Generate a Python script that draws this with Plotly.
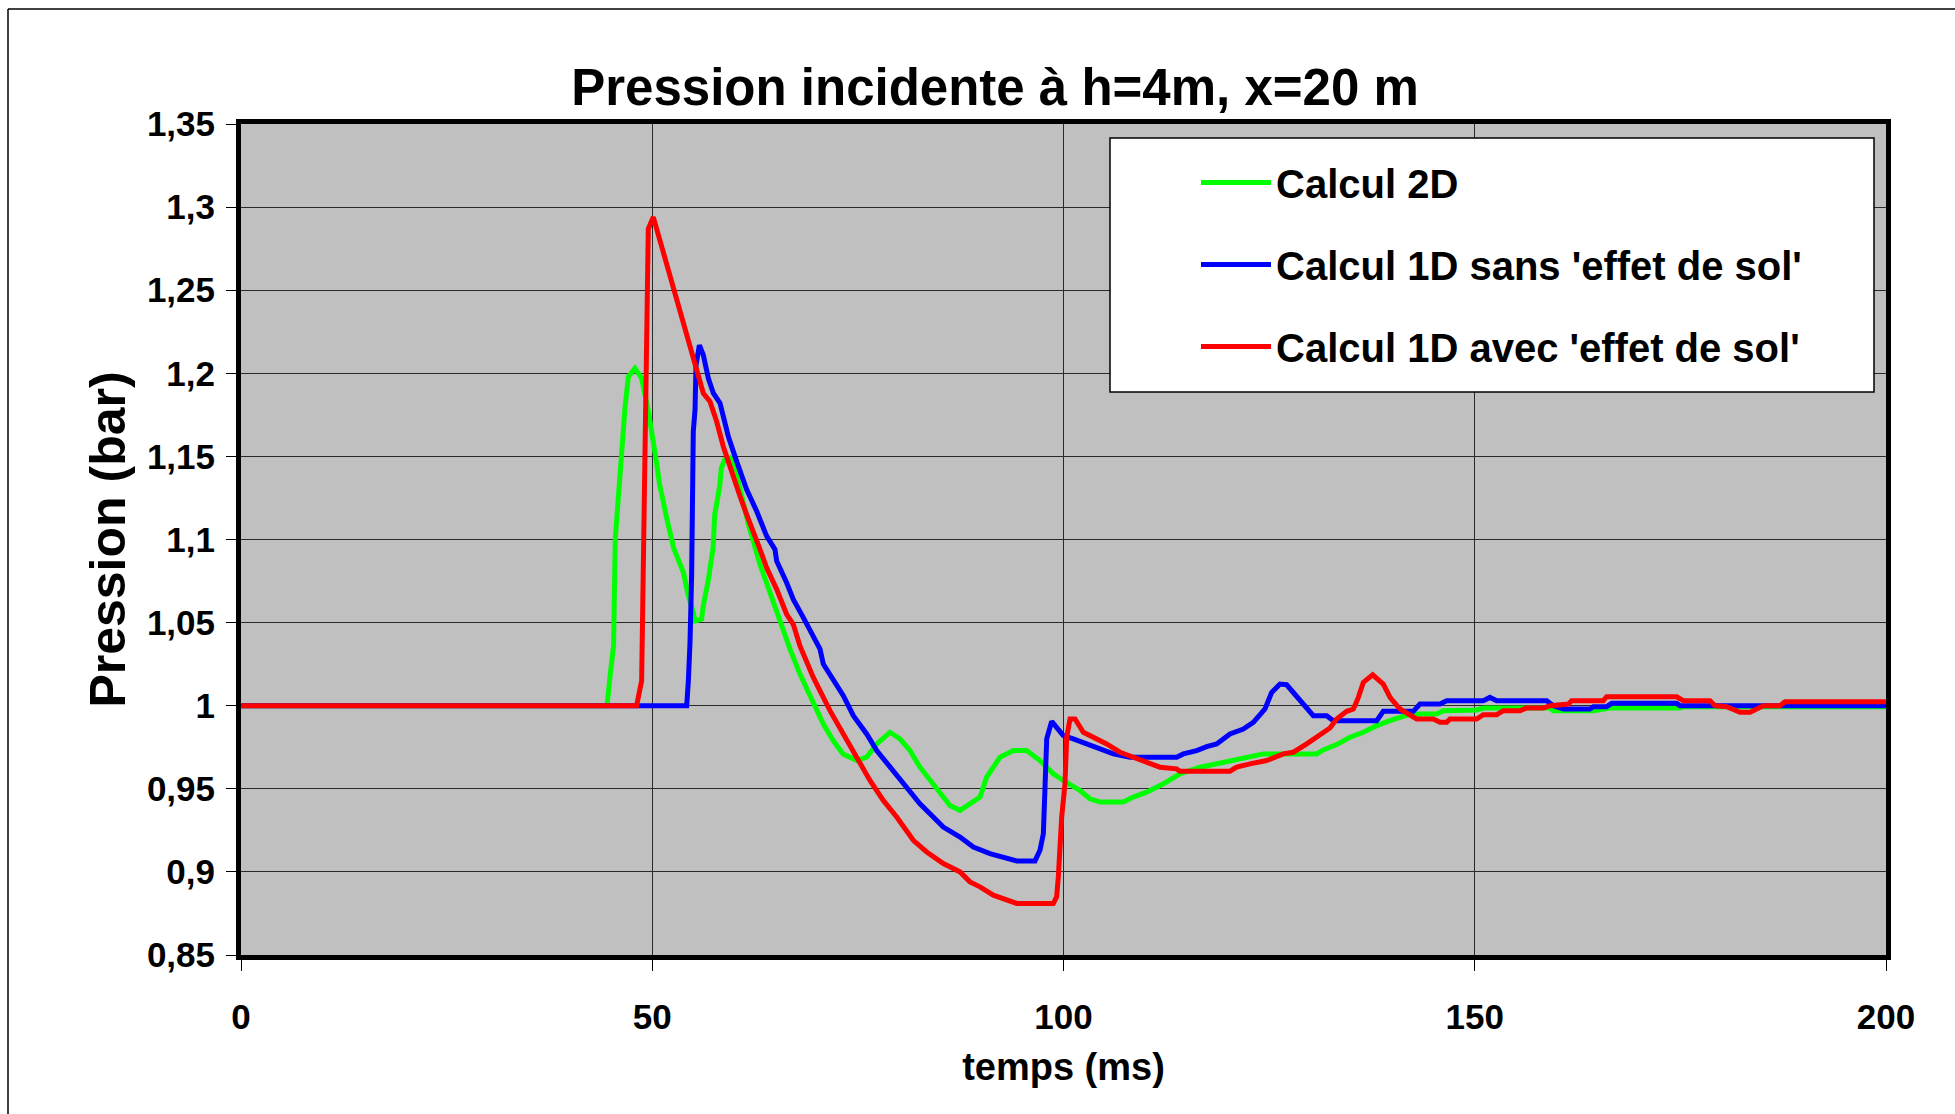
import plotly.graph_objects as go

# ---------------- data ----------------
t_2d = [0, 44.5, 44.9, 45.3, 45.5, 46.1, 46.3, 46.7, 47.1, 47.9, 48.7, 49.5, 50.5, 50.9, 51.8,
        52.6, 53.8, 54.4, 55.0, 55.2, 56.0, 56.2, 56.8, 57.4, 57.6, 58.2, 58.4, 58.8, 59.5,
        59.9, 60.7, 61.7, 63.1, 64.3, 65.5, 66.75, 67.96, 69.58, 70.8, 72.0, 73.2, 74.85,
        76.07, 77.29, 78.91, 80.12, 81.34, 82.55, 83.77, 84.98, 86.2, 87.42, 88.63, 89.85,
        90.66, 92.28, 93.9, 95.52, 97.14, 98.76, 99.98, 102.0, 103.22, 104.44, 107.27,
        108.49, 110.11, 112.14, 114.16, 116.6, 118.22, 120.65, 122.67, 124.3, 130.78,
        131.59, 133.21, 134.83, 136.45, 138.08, 139.7, 141.32, 142.13, 145.37, 146.18,
        150.23, 151.04, 159.15, 159.55, 164.42, 166.44, 174.95, 175.36, 200]
p_2d = [1.0, 1.0, 1.019, 1.036, 1.10, 1.145, 1.16, 1.18, 1.198, 1.203, 1.197, 1.178, 1.147,
        1.133, 1.112, 1.095, 1.08, 1.066, 1.056, 1.051, 1.052, 1.06, 1.075, 1.095, 1.115,
        1.132, 1.143, 1.148, 1.149, 1.145, 1.13, 1.109, 1.085, 1.068, 1.05, 1.034, 1.019,
        1.001, 0.989, 0.979, 0.971, 0.967, 0.969, 0.977, 0.984, 0.980, 0.973, 0.963, 0.955,
        0.947, 0.940, 0.937, 0.941, 0.945, 0.957, 0.969, 0.973, 0.973, 0.967, 0.959, 0.955,
        0.949, 0.944, 0.942, 0.942, 0.945, 0.948, 0.953, 0.959, 0.963, 0.9646, 0.967, 0.969,
        0.971, 0.971, 0.9734, 0.9766, 0.981, 0.984, 0.988, 0.991, 0.994, 0.995, 0.995, 0.997,
        0.9974, 0.9986, 0.9986, 0.997, 0.997, 0.9986, 0.9986, 0.9994, 0.9994]

t_1d_sans = [0, 54.19, 54.39, 54.59, 54.79, 54.99, 55.2, 55.32, 55.73, 56.21, 56.82, 57.43,
             58.24, 58.84, 59.25, 60.26, 61.48, 62.7, 63.91, 64.92, 65.13, 66.34, 67.15,
             68.37, 69.58, 70.4, 70.8, 72.01, 73.23, 74.45, 76.07, 77.29, 78.91, 80.93,
             82.55, 84.17, 85.39, 87.42, 89.04, 91.06, 92.68, 94.31, 96.53, 97.14, 97.55,
             97.75, 97.96, 98.56, 99.17, 99.98, 101.19, 102.82, 104.44, 106.06, 108.08,
             110.52, 113.76, 114.57, 116.19, 117.41, 118.62, 120.24, 121.86, 123.08, 124.5,
             125.31, 126.32, 127.13, 128.35, 129.57, 130.37, 132.0, 132.8, 138.08, 138.88,
             142.53, 143.34, 145.78, 146.59, 151.04, 151.85, 152.67, 158.75, 159.55, 160.77,
             164.01, 164.42, 166.04, 166.65, 174.55, 174.95, 200]
p_1d_sans = [1.0, 1.0, 1.015, 1.038, 1.079, 1.165, 1.178, 1.205, 1.217, 1.211, 1.197, 1.188,
             1.182, 1.171, 1.162, 1.147, 1.130, 1.117, 1.102, 1.094, 1.087, 1.074, 1.064,
             1.053, 1.042, 1.034, 1.025, 1.015, 1.006, 0.994, 0.983, 0.973, 0.963, 0.951,
             0.941, 0.933, 0.927, 0.921, 0.915, 0.911, 0.9086, 0.9066, 0.9066, 0.913, 0.923,
             0.953, 0.980, 0.9906, 0.987, 0.982, 0.980, 0.977, 0.974, 0.971, 0.969,
             0.969, 0.969, 0.971, 0.973, 0.9754, 0.977, 0.983, 0.986, 0.990, 0.998,
             1.008, 1.013, 1.0126, 1.006, 0.999, 0.994, 0.994, 0.991, 0.991, 0.9966,
             0.9966, 1.001, 1.001, 1.003, 1.003, 1.005, 1.003, 1.003, 1.0, 0.998,
             0.998, 0.9994, 0.9994, 1.0014, 1.0014, 1.0, 1.0]

t_1d_avec = [0, 48.1, 48.71, 48.92, 49.12, 49.4, 49.52, 50.13, 50.94, 51.75, 52.77, 53.78,
             54.59, 55.2, 55.81, 56.21, 57.02, 57.83, 58.64, 59.45, 60.67, 61.48, 62.29,
             63.1, 63.91, 65.13, 66.34, 67.15, 67.96, 69.58, 71.61, 73.23, 74.85, 76.47,
             78.09, 79.72, 81.74, 83.37, 85.39, 87.42, 88.63, 89.85, 91.47, 93.09, 94.31,
             98.76, 99.17, 99.37, 99.78, 100.18, 100.39, 100.79, 101.4, 102.41, 103.63,
             105.25, 106.87, 108.49, 110.52, 111.73, 113.76, 114.16, 120.24, 121.05, 122.67,
             124.7, 126.72, 127.94, 129.57, 130.78, 132.4, 133.21, 134.43, 135.24, 135.85,
             136.45, 137.59, 138.88, 139.7, 140.91, 142.53, 142.94, 144.96, 145.78, 146.59,
             146.99, 150.23, 151.04, 152.67, 153.48, 155.5, 156.31, 158.34, 159.15, 161.38,
             161.78, 165.63, 166.04, 174.55, 175.36, 178.6, 179.21, 180.63, 181.44, 182.25,
             183.47, 184.28, 185.08, 187.11, 187.72, 200]
p_1d_avec = [1.0, 1.0, 1.015, 1.079, 1.143, 1.229, 1.287, 1.294, 1.280, 1.265, 1.248, 1.231,
             1.218, 1.205, 1.195, 1.188, 1.183, 1.171, 1.156, 1.143, 1.126, 1.115, 1.105,
             1.094, 1.083, 1.070, 1.055, 1.049, 1.036, 1.017, 0.997, 0.983, 0.969, 0.955,
             0.943, 0.933, 0.919, 0.912, 0.905, 0.900, 0.894, 0.891, 0.886, 0.883, 0.881,
             0.881, 0.885, 0.897, 0.933, 0.953, 0.981, 0.992, 0.992, 0.984, 0.981,
             0.977, 0.972, 0.969, 0.966, 0.963, 0.962, 0.9606, 0.9606, 0.963, 0.965,
             0.967, 0.971, 0.972, 0.977, 0.981, 0.9866, 0.992, 0.9966, 0.998, 1.005,
             1.014, 1.0186, 1.013, 1.005, 0.998, 0.993, 0.992, 0.992, 0.990, 0.990,
             0.992, 0.992, 0.9946, 0.9946, 0.997, 0.997, 0.9986, 0.9986, 1.0, 1.001,
             1.003, 1.003, 1.0054, 1.0054, 1.003, 1.003, 1.0, 0.9994, 0.998, 0.996,
             0.996, 0.998, 1.0, 1.0, 1.0024, 1.0024]

series_names = ["Calcul 2D", "Calcul 1D sans 'effet de sol'", "Calcul 1D avec 'effet de sol'"]
series_colors = ["#00FF00", "#0000FF", "#FF0000"]

x_tickvals = [0, 50, 100, 150, 200]
x_ticktext = ["0", "50", "100", "150", "200"]
y_tickvals = [0.85, 0.9, 0.95, 1.0, 1.05, 1.1, 1.15, 1.2, 1.25, 1.3, 1.35]
y_ticktext = ["0,85", "0,9", "0,95", "1", "1,05", "1,1", "1,15", "1,2", "1,25", "1,3", "1,35"]

title_text = "Pression incidente à h=4m, x=20 m"
x_title = "temps (ms)"
y_title = "Pression (bar)"

# ---------------- figure ----------------
SANS = "Liberation Sans, Arial, sans-serif"

fig = go.Figure()
xs = [t_2d, t_1d_sans, t_1d_avec]
ys = [p_2d, p_1d_sans, p_1d_avec]
for i in range(3):
    fig.add_trace(go.Scatter(
        x=xs[i], y=ys[i], mode="lines", name=series_names[i],
        legendgroup="g%d" % i,
        line=dict(color=series_colors[i], width=5),
    ))

W, H = 1955, 1114
L, R, T, B = 241, 69, 124, 159
PW, PH = W - L - R, H - T - B

def px2paper_x(px):
    return (px - L) / PW

def px2paper_y(py):
    return (H - B - py) / PH

fig.update_layout(
    width=W, height=H,
    margin=dict(l=L, r=R, t=T, b=B, autoexpand=False),
    paper_bgcolor="white",
    plot_bgcolor="#C0C0C0",
    font=dict(family=SANS, color="black", weight="bold"),
    title=dict(
        text=title_text, x=995 / W, xanchor="center", xref="container",
        y=1 - 87 / H, yanchor="middle", yref="container",
        font=dict(family=SANS, size=51, color="black", weight="bold"),
    ),
    showlegend=True,
    legend=dict(
        x=px2paper_x(1196), xanchor="left",
        y=px2paper_y(150), yanchor="top",
        bgcolor="rgba(0,0,0,0)", borderwidth=0,
        font=dict(family=SANS, size=40, color="black", weight="bold"),
        tracegroupgap=27, itemwidth=70,
    ),
    xaxis=dict(
        range=[0, 200], tickvals=x_tickvals, ticktext=x_ticktext,
        ticks="outside", ticklen=11, tickwidth=1, tickcolor="black",
        ticklabelstandoff=16,
        showgrid=True, gridcolor="#2a2a2a", gridwidth=1, zeroline=False,
        showline=True, linewidth=5, linecolor="black", mirror=True,
        tickfont=dict(family=SANS, size=35, color="black", weight="bold"),
        title=dict(text=x_title, standoff=20,
                   font=dict(family=SANS, size=38, color="black", weight="bold")),
    ),
    yaxis=dict(
        range=[0.85, 1.35], tickvals=y_tickvals, ticktext=y_ticktext,
        ticks="outside", ticklen=10, tickwidth=1, tickcolor="black",
        ticklabelstandoff=4,
        showgrid=True, gridcolor="#2a2a2a", gridwidth=1, zeroline=False,
        showline=True, linewidth=5, linecolor="black", mirror=True,
        tickfont=dict(family=SANS, size=35, color="black", weight="bold"),
        title=dict(text=y_title, standoff=7,
                   font=dict(family=SANS, size=50, color="black", weight="bold")),
    ),
    shapes=[
        # legend box
        dict(type="rect", xref="paper", yref="paper", layer="above",
             x0=px2paper_x(1110), x1=px2paper_x(1874),
             y0=px2paper_y(392), y1=px2paper_y(138),
             fillcolor="white", line=dict(color="black", width=1.5)),
        # outer chart frame: top and left edges (others lie outside the picture)
        dict(type="line", xref="paper", yref="paper", layer="below",
             x0=px2paper_x(8), x1=px2paper_x(1955),
             y0=px2paper_y(9), y1=px2paper_y(9),
             line=dict(color="black", width=1.5)),
        dict(type="line", xref="paper", yref="paper", layer="below",
             x0=px2paper_x(8), x1=px2paper_x(8),
             y0=px2paper_y(9), y1=px2paper_y(1114),
             line=dict(color="black", width=1.5)),
    ],
)

fig.write_html("out.html")
